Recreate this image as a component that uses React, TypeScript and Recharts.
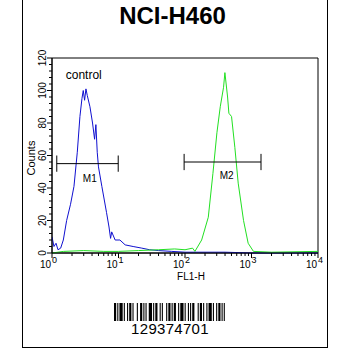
import React from "react"
import { LineChart, Line, XAxis, YAxis, ReferenceLine, ReferenceDot, ReferenceArea } from "recharts"

// FL1-H intensity vs cell counts
const controlFL1 = [1.0, 1.07, 1.15, 1.23, 1.35, 1.48, 1.66, 1.9, 2.14, 2.4, 2.63, 2.82, 2.95, 3.09, 3.24, 3.39, 3.72, 4.07, 4.37, 4.57, 4.79, 5.0, 5.62, 6.6, 7.2, 7.6, 7.9, 8.9, 10.5, 12.6, 16.6, 22.4, 29.5, 40, 63, 100, 200, 400, 1000, 10000]
const controlCounts = [10, 4, 6, 2, 3, 8, 20, 30, 41, 62, 84, 95, 100, 94, 101, 97, 90, 80, 70, 79, 62, 53, 41, 25, 16, 9, 13, 8, 8, 5, 4, 3, 2, 1.5, 1, 0.5, 0.5, 0.5, 0, 0]

const sampleFL1 = [1, 1.5, 3, 6, 10, 20, 40, 70, 100, 130, 141, 178, 224, 263, 302, 339, 380, 398, 437, 457, 501, 562, 631, 759, 891, 1070, 2000, 10000]
const sampleCounts = [0, 1, 1.5, 1, 1, 1.5, 2, 2.5, 2, 3, 1, 8, 22, 49, 74, 90, 102, 111, 96, 86, 84, 65, 43, 20, 6, 1, 0.5, 1]

const xTicks = [1, 2, 3, 4, 5, 6, 7, 8, 9, 10, 20, 30, 40, 50, 60, 70, 80, 90, 100, 200, 300, 400, 500, 600, 700, 800, 900, 1000, 2000, 3000, 4000, 5000, 6000, 7000, 8000, 9000, 10000]
const yTicks = [0, 4, 8, 12, 16, 20, 24, 28, 32, 36, 40, 44, 48, 52, 56, 60, 64, 68, 72, 76, 80, 84, 88, 92, 96, 100, 104, 108, 112, 116, 120]

// gate markers: [from, to, level]
const m1 = [1.18, 9.9, 55]
const m2 = [97, 1390, 56]

const barcode = [2, 1, 1, 1, 3, 1, 1, 2, 1, 1, 2, 1, 1, 3, 1, 2, 2, 1, 1, 1, 1, 2, 3, 1, 1, 1, 2, 2, 1, 1, 1, 3, 1, 1, 2, 1, 1, 1, 2, 2, 1, 1, 3, 1, 1, 2, 1, 1, 1, 1, 2, 3, 1, 1, 2, 1, 1, 2, 1, 1, 3, 1, 1, 2, 1, 1, 2, 1, 1, 1, 1, 2]

const font = "'Liberation Sans', Arial, sans-serif"

const toData = (xs: number[], ys: number[]) => xs.map((x, i) => ({ x, y: ys[i] }))

const XTick = ({ x, y, payload }: any) => {
  const lg = Math.log10(payload.value)
  const exp = Math.round(lg)
  const major = Math.abs(lg - exp) < 1e-6
  return (
    <g>
      <line x1={x} x2={x} y1={y} y2={y + (major ? 5 : 3)} stroke="#000" />
      {major && (
        <>
          <text x={x - 1} y={y + 15} textAnchor="end" fontSize={10} fontFamily={font} fill="#000">10</text>
          <text x={x} y={y + 10} fontSize={9} fontFamily={font} fill="#000">{exp}</text>
        </>
      )}
    </g>
  )
}

const YTick = ({ x, y, payload }: any) => {
  const major = payload.value % 20 === 0
  return (
    <g>
      <line x1={x - (major ? 5 : 3)} x2={x} y1={y} y2={y} stroke="#000" />
      {major && (
        <text x={x - 6} y={y} textAnchor="middle" fontSize={10} fontFamily={font} fill="#000" transform={`rotate(-90, ${x - 6}, ${y})`}>
          {payload.value}
        </text>
      )}
    </g>
  )
}

const Marker = ({ gate }: { gate: number[] }) => {
  const [a, b, lvl] = gate
  return (
    <>
      <ReferenceLine segment={[{ x: a, y: lvl }, { x: b, y: lvl }]} stroke="#000" ifOverflow="visible" />
      <ReferenceLine segment={[{ x: a, y: lvl - 5 }, { x: a, y: lvl + 5 }]} stroke="#000" ifOverflow="visible" />
      <ReferenceLine segment={[{ x: b, y: lvl - 5 }, { x: b, y: lvl + 5 }]} stroke="#000" ifOverflow="visible" />
    </>
  )
}

export default function App() {
  const total = barcode.reduce((s, w) => s + w, 0)
  let pos = 0
  const bars = barcode.map((w, i) => {
    const r = i % 2 === 0 ? <rect key={i} x={pos} y={0} width={w} height={1} fill="#000" /> : null
    pos += w
    return r
  })

  return (
    <div style={{ position: "absolute", left: 0, top: 0, width: 350, height: 350, background: "#fff", fontFamily: font }}>
      <div style={{ position: "absolute", left: 22, top: -2, width: 304, height: 349, borderLeft: "1.5px solid #000", borderRight: "1.5px solid #000", borderBottom: "1.5px solid #000" }} />
      <div style={{ position: "absolute", left: 0, width: 345, top: 2, textAlign: "center", fontSize: 24, fontWeight: "bold", lineHeight: "28px" }}>NCI-H460</div>

      <div style={{ position: "absolute", left: 0, top: 0 }}>
        <LineChart width={350} height={350} data={[]} margin={{ top: 58, right: 32, left: 22, bottom: 67 }}>
          <XAxis
            dataKey="x"
            type="number"
            scale="log"
            domain={[1, 10000]}
            allowDataOverflow
            ticks={xTicks}
            interval={0}
            tick={<XTick />}
            tickLine={false}
            tickSize={0}
            tickMargin={0}
            height={30}
            stroke="#000"
            label={{
              content: ({ viewBox }: any) => (
                <text x={viewBox.x + viewBox.width / 2 + 6} y={280} textAnchor="middle" fontSize={10} fontFamily={font} fill="#000">FL1-H</text>
              ),
            }}
          />
          <YAxis
            type="number"
            domain={[0, 120]}
            ticks={yTicks}
            interval={0}
            tick={<YTick />}
            tickLine={false}
            tickSize={0}
            tickMargin={0}
            width={30}
            stroke="#000"
            label={{
              content: () => (
                <text x={35} y={158} textAnchor="middle" fontSize={11} fontFamily={font} fill="#000" transform="rotate(-90, 35, 158)">Counts</text>
              ),
            }}
          />
          <ReferenceArea x1={1} x2={10000} y1={0} y2={120} fill="none" stroke="#000" />
          <Line data={toData(controlFL1, controlCounts)} dataKey="y" type="linear" stroke="#1010d0" strokeWidth={1} dot={false} isAnimationActive={false} />
          <Line data={toData(sampleFL1, sampleCounts)} dataKey="y" type="linear" stroke="#22e022" strokeWidth={1} dot={false} isAnimationActive={false} />
          {Marker({ gate: m1 })}
          {Marker({ gate: m2 })}
          <ReferenceDot x={3.7} y={46} r={0} stroke="none" fill="none" label={{ value: "M1", position: "center", fontSize: 10, fontFamily: font, fill: "#000" }} />
          <ReferenceDot x={424} y={48} r={0} stroke="none" fill="none" label={{ value: "M2", position: "center", fontSize: 10, fontFamily: font, fill: "#000" }} />
          <ReferenceDot x={3.0} y={110} r={0} stroke="none" fill="none" label={{ value: "control", position: "center", fontSize: 12, fontFamily: font, fill: "#000" }} />
        </LineChart>
      </div>

      <svg style={{ position: "absolute", left: 114, top: 303 }} width={113} height={18} viewBox={`0 0 ${total} 1`} preserveAspectRatio="none">
        {bars}
      </svg>
      <div style={{ position: "absolute", left: 100, width: 140, top: 320, textAlign: "center", fontSize: 15, lineHeight: "17px", letterSpacing: 0.3 }}>129374701</div>
    </div>
  )
}
